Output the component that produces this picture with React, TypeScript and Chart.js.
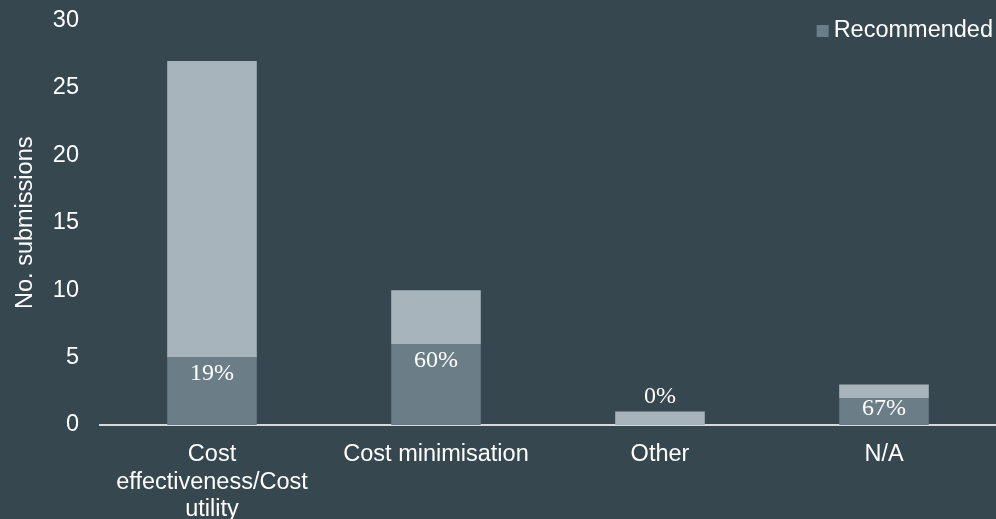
import React, { useEffect, useRef } from 'react';
import { Chart, registerables } from 'chart.js';

Chart.register(...registerables);

const categories: (string | string[])[] = [
  ['Cost', 'effectiveness/Cost', 'utility'],
  'Cost minimisation',
  'Other',
  'N/A',
];
const recommended = [5, 6, 0, 2];
const notRecommended = [22, 4, 1, 1];
const pctLabels = ['19%', '60%', '0%', '67%'];
const yMin = 0;
const yMax = 30;
const yStep = 5;

const BG = '#37474f';
const REC = '#6b7e88';
const NOTREC = '#a7b4bc';
const TEXT = '#ffffff';
const SANS = '"Liberation Sans", Arial, sans-serif';
const SERIF = '"Liberation Serif", "Times New Roman", serif';

const pctPlugin = {
  id: 'pctLabels',
  afterDatasetsDraw(chart: any) {
    const ctx = chart.ctx;
    const recMeta = chart.getDatasetMeta(0);
    const totMeta = chart.getDatasetMeta(1);
    ctx.save();
    ctx.fillStyle = TEXT;
    ctx.font = `24px ${SERIF}`;
    ctx.textAlign = 'center';
    ctx.textBaseline = 'middle';
    recMeta.data.forEach((bar: any, i: number) => {
      let y: number;
      if (recommended[i] > 0) {
        y = Math.min(bar.y + 16.5, bar.base - 16.5);
      } else {
        y = totMeta.data[i].y - 14.5;
      }
      ctx.fillText(pctLabels[i], bar.x, y);
    });
    ctx.restore();
  },
};

const legendPlugin = {
  id: 'customLegend',
  afterDraw(chart: any) {
    const ctx = chart.ctx;
    ctx.save();
    ctx.font = `23.5px ${SANS}`;
    const text = 'Recommended';
    const w = ctx.measureText(text).width;
    const right = chart.width - 3;
    const textX = right - w;
    const cy = 31;
    ctx.fillStyle = REC;
    ctx.fillRect(textX - 5 - 12, cy - 6, 12, 12);
    ctx.fillStyle = TEXT;
    ctx.textAlign = 'left';
    ctx.textBaseline = 'middle';
    ctx.fillText(text, textX, cy);
    ctx.restore();
  },
};

export default function App() {
  const canvasRef = useRef<HTMLCanvasElement | null>(null);

  useEffect(() => {
    document.body.style.margin = '0';
    const canvas = canvasRef.current;
    if (!canvas) return;
    const chart = new Chart(canvas, {
      type: 'bar',
      data: {
        labels: categories as any,
        datasets: [
          {
            label: 'Recommended',
            data: recommended,
            backgroundColor: REC,
            borderWidth: 0,
            barPercentage: 0.4,
            categoryPercentage: 1,
          },
          {
            label: 'Not recommended',
            data: notRecommended,
            backgroundColor: NOTREC,
            borderWidth: 0,
            barPercentage: 0.4,
            categoryPercentage: 1,
          },
        ],
      },
      options: {
        responsive: false,
        animation: false,
        layout: { padding: { top: 20.5, right: 0, bottom: 0, left: 0 } },
        plugins: {
          legend: { display: false },
          tooltip: { enabled: false },
        },
        scales: {
          x: {
            stacked: true,
            grid: { display: false, drawTicks: false },
            border: { display: true, color: '#d9d9d9', width: 2 },
            ticks: {
              color: TEXT,
              font: { family: SANS, size: 23.5, lineHeight: 1.17 },
              padding: 16,
              maxRotation: 0,
              minRotation: 0,
              autoSkip: false,
            },
            afterFit(scale: any) {
              scale.height = 94;
              scale.paddingLeft = 0;
              scale.paddingRight = 0;
            },
          },
          y: {
            stacked: true,
            min: yMin,
            max: yMax,
            grid: { display: false, drawTicks: false },
            border: { display: false },
            ticks: {
              stepSize: yStep,
              color: TEXT,
              font: { family: SANS, size: 23.5 },
              padding: 21,
            },
            title: {
              display: true,
              text: 'No. submissions',
              color: TEXT,
              font: { family: SANS, size: 23.5 },
              padding: { top: 11, bottom: 0 },
            },
            afterFit(scale: any) {
              scale.width = 100;
              scale.paddingTop = 0;
              scale.paddingBottom = 0;
            },
          },
        },
      },
      plugins: [pctPlugin, legendPlugin],
    });
    return () => chart.destroy();
  }, []);

  return (
    <div style={{ width: 996, height: 519, background: BG }}>
      <canvas ref={canvasRef} width={996} height={519} style={{ display: 'block' }} />
    </div>
  );
}
